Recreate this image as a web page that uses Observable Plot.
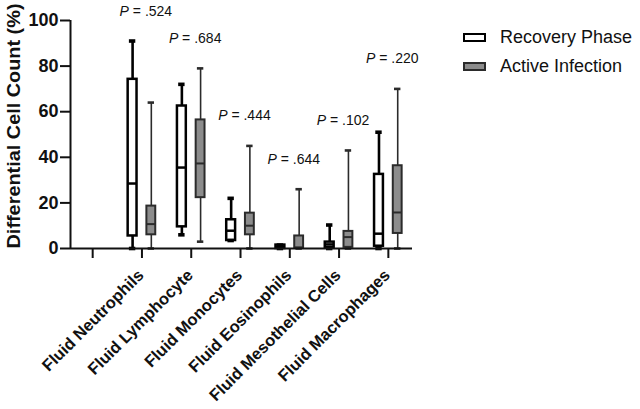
<!DOCTYPE html>
<html>
<head>
<meta charset="utf-8">
<script src="https://cdn.jsdelivr.net/npm/d3@7"></script>
<script src="https://cdn.jsdelivr.net/npm/@observablehq/plot@0.6"></script>
<style>
  body { margin: 0; background: #fff; font-family: "Liberation Sans", Arial, sans-serif; }
  #wrap { position: relative; width: 640px; height: 409px; }
  .legend { position: absolute; left: 463px; top: 23px; font-size: 18px; color: #111; }
  .item { display: flex; align-items: center; height: 29px; }
  .sw { width: 19px; height: 5px; margin-right: 14px; border: 2px solid #000; }
</style>
</head>
<body>
<div id="wrap"></div>
<script>
// ---- data ----
const categories = ["Fluid Neutrophils", "Fluid Lymphocyte", "Fluid Monocytes", "Fluid Eosinophils", "Fluid Mesothelial Cells", "Fluid Macrophages"];
const series = ["Recovery Phase", "Active Infection"];
const recoveryMin    = [0,    6,    3.5,  0,   0,    0];
const recoveryQ1     = [5.5,  9.5,  3.5,  0,   0.5,  1];
const recoveryMedian = [28.5, 35.5, 7.8,  0.5, 1.8,  6.5];
const recoveryQ3     = [74.2, 62.5, 12.6, 1.5, 2.8,  32.5];
const recoveryMax    = [91,   72,   22,   1.5, 10.3, 51];
const activeMin      = [0,    3,    0,    0,   0,    0];
const activeQ1       = [6,    22.3, 6,    0,   0.5,  6.6];
const activeMedian   = [10.7, 37.3, 10,   0.5, 5,    15.8];
const activeQ3       = [18.6, 56.4, 15.5, 5.5, 7.5,  36.3];
const activeMax      = [64,   79,   45,   26,  43,   70];
const pValues = [".524", ".684", ".444", ".644", ".102", ".220"];
const yTicks = [0, 20, 40, 60, 80, 100];
const yLabel = "Differential Cell Count (%)";

// ---- layout constants (category units) ----
const groupOffset = 0.19, boxHalf = 0.09, capHalf = 0.065;
const xStart = -0.45, xEnd = categories.length + 0.49;
const xTicks = d3.range(categories.length + 1);

const rows = [];
categories.forEach((c, i) => {
  rows.push({pos: i + 1, s: 0, series: series[0], min: recoveryMin[i], q1: recoveryQ1[i], median: recoveryMedian[i], q3: recoveryQ3[i], max: recoveryMax[i]});
  rows.push({pos: i + 1, s: 1, series: series[1], min: activeMin[i], q1: activeQ1[i], median: activeMedian[i], q3: activeQ3[i], max: activeMax[i]});
});
const cx = d => d.pos + (d.s === 0 ? -groupOffset : groupOffset);
const rec = rows.filter(d => d.s === 0), act = rows.filter(d => d.s === 1);
const pRows = categories.map((c, i) => ({pos: i + 1, p: pValues[i], top: Math.max(recoveryMax[i], activeMax[i])}));

function boxMarks(data, stroke, fill, sw, wsw) {
  return [
    Plot.ruleX(data, {x: cx, y1: "q3", y2: "max", stroke, strokeWidth: wsw}),
    Plot.ruleX(data, {x: cx, y1: "min", y2: "q1", stroke, strokeWidth: wsw}),
    Plot.rect(data, {x1: d => cx(d) - boxHalf, x2: d => cx(d) + boxHalf, y1: "q1", y2: "q3", fill, stroke, strokeWidth: sw}),
    Plot.ruleY(data, {y: "median", x1: d => cx(d) - boxHalf, x2: d => cx(d) + boxHalf, stroke, strokeWidth: sw}),
    Plot.ruleY(data, {y: "max", x1: d => cx(d) - capHalf, x2: d => cx(d) + capHalf, stroke, strokeWidth: wsw + 1}),
    Plot.ruleY(data, {y: "min", x1: d => cx(d) - capHalf, x2: d => cx(d) + capHalf, stroke, strokeWidth: wsw + 1})
  ];
}

const chart = Plot.plot({
  width: 640, height: 409,
  marginLeft: 70, marginRight: 228, marginTop: 20, marginBottom: 161,
  style: {fontFamily: "Liberation Sans, Arial, sans-serif", color: "#111", background: "white", overflow: "visible"},
  x: {domain: [xStart, xEnd], axis: null},
  y: {domain: [0, 100], axis: null},
  marks: [
    Plot.axisY({ticks: yTicks, tickSize: 10, tickPadding: 2, fontSize: 18, fontWeight: "bold", strokeWidth: 2, label: null}),
    Plot.axisX({ticks: xTicks, tickSize: 10, tickFormat: () => "", strokeWidth: 2, label: null}),
    Plot.text([yLabel], {frameAnchor: "left", rotate: -90, dx: -56, dy: -8.5, fontSize: 18, fontWeight: "bold", textAnchor: "middle", lineAnchor: "middle"}),
    Plot.text(categories, {x: (d, i) => i + 1, frameAnchor: "bottom", dx: -1, dy: 24, rotate: -45, textAnchor: "end", lineAnchor: "middle", fontSize: 16.5, fontWeight: "bold"}),
    ...boxMarks(act, "#2b2b2b", "#8c8c8c", 2, 1.6),
    ...boxMarks(rec, "#000", "#fff", 2.5, 2.6),
    Plot.ruleX([xStart], {strokeWidth: 2, stroke: "#111"}),
    Plot.ruleY([0], {strokeWidth: 2, stroke: "#111"}),
    Plot.text(pRows, {x: "pos", y: "top", text: () => "P", dy: -30, dx: -13, textAnchor: "end", lineAnchor: "middle", fontSize: 14, fontStyle: "italic"}),
    Plot.text(pRows, {x: "pos", y: "top", text: d => "\u00a0= " + d.p, dy: -30, dx: -13, textAnchor: "start", lineAnchor: "middle", fontSize: 14})
  ]
});

// stretch the y-axis title to the reference's length
chart.querySelectorAll("text").forEach(t => {
  if (t.textContent === yLabel) {
    t.setAttribute("textLength", 245);
    t.setAttribute("lengthAdjust", "spacingAndGlyphs");
  }
});

const wrap = document.getElementById("wrap");
wrap.appendChild(chart);
const legend = document.createElement("div");
legend.className = "legend";
const swatches = [{fill: "#fff", stroke: "#000"}, {fill: "#8c8c8c", stroke: "#2b2b2b"}];
series.forEach((s, i) => {
  const item = document.createElement("div");
  item.className = "item";
  const sw = document.createElement("span");
  sw.className = "sw";
  sw.style.background = swatches[i].fill;
  sw.style.borderColor = swatches[i].stroke;
  const t = document.createElement("span");
  t.textContent = s;
  item.appendChild(sw); item.appendChild(t);
  legend.appendChild(item);
});
wrap.appendChild(legend);
</script>
</body>
</html>
